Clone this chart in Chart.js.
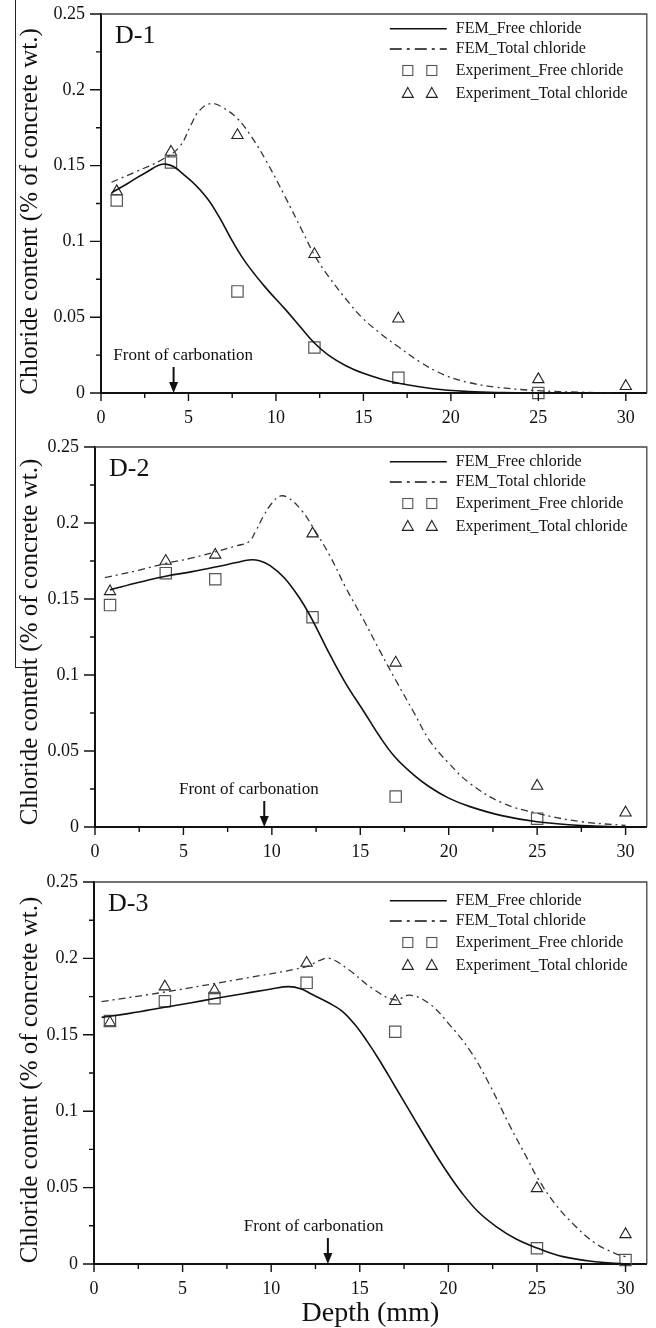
<!DOCTYPE html>
<html>
<head>
<meta charset="utf-8">
<script src="https://cdn.jsdelivr.net/npm/chart.js@4.4.0/dist/chart.umd.min.js"></script>
<style>
  body { margin: 0; background: #fff; }
  #wrap { position: relative; width: 656px; height: 1328px; overflow: hidden; }
  canvas { position: absolute; left: 0; }
  .edge { position: absolute; background: #222; }
</style>
</head>
<body>
<div id="wrap">
  <canvas id="d1" width="656" height="430" style="top:0"></canvas>
  <canvas id="d2" width="656" height="430" style="top:430px"></canvas>
  <canvas id="d3" width="656" height="468" style="top:860px"></canvas>
  <div class="edge" style="left:15px;top:0;width:1px;height:668px"></div>
  <div class="edge" style="left:15px;top:667px;width:18px;height:1px"></div>
</div>
<script>
var serif = "'Liberation Serif', 'Times New Roman', serif";

var xTickLabels = ["0", "5", "10", "15", "20", "25", "30"];
var yTickLabels = ["0", "0.05", "0.1", "0.15", "0.2", "0.25"];
var legendLabels = ["FEM_Free chloride", "FEM_Total chloride", "Experiment_Free chloride", "Experiment_Total chloride"];

// D-1
var d1ExpDepth = [0.9, 4, 7.8, 12.2, 17, 25, 30];
var d1ExpFree = [0.127, 0.152, 0.067, 0.030, 0.010, 0.000];
var d1ExpTotal = [0.133, 0.159, 0.170, 0.0915, 0.049, 0.009, 0.0045];
var d1FemFreeDepth = [0.6, 1.5, 2.5, 3.7, 4.87, 6.0, 6.76, 7.52, 8.28, 9.41, 10.55, 11.4, 12.2, 13, 14, 15, 16, 17, 19, 21, 23, 25, 27.5, 30];
var d1FemFree = [0.132, 0.138, 0.145, 0.151, 0.1427, 0.1295, 0.116, 0.100, 0.086, 0.0695, 0.055, 0.0435, 0.033, 0.025, 0.018, 0.013, 0.0093, 0.0065, 0.0028, 0.001, 0.0003, 0.0001, 0, 0];
var d1FemTotalDepth = [0.6, 2, 3.5, 4.5, 5.15, 5.6, 6.3, 7, 7.8, 8.6, 9.4, 10.5, 11.5, 12.25, 13, 14, 14.9, 16, 17, 18.3, 19.6, 21, 22.5, 25, 27.5, 30];
var d1FemTotal = [0.139, 0.146, 0.154, 0.1625, 0.177, 0.186, 0.191, 0.188, 0.181, 0.169, 0.154, 0.130, 0.107, 0.090, 0.077, 0.062, 0.050, 0.039, 0.0305, 0.020, 0.012, 0.007, 0.004, 0.0015, 0.0005, 0];
var d1Front = 4.15, d1FrontText = 4.7;

// D-2
var d2ExpDepth = [0.85, 4, 6.8, 12.3, 17, 25, 30];
var d2ExpFree = [0.146, 0.167, 0.163, 0.138, 0.020, 0.0055];
var d2ExpTotal = [0.155, 0.175, 0.179, 0.193, 0.108, 0.027, 0.0094];
var d2FemFreeDepth = [0.85, 2.5, 4, 5.5, 6.8, 8, 8.7, 9.3, 9.9, 10.7, 11.6, 12.3, 13.3, 14.2, 15.2, 16.1, 17, 18, 18.9, 20, 21.2, 23, 25, 27.5, 30];
var d2FemFree = [0.156, 0.161, 0.165, 0.168, 0.171, 0.174, 0.1757, 0.1752, 0.172, 0.164, 0.150, 0.136, 0.113, 0.094, 0.076, 0.0595, 0.0455, 0.0345, 0.0265, 0.019, 0.0134, 0.0075, 0.0035, 0.001, 0];
var d2FemTotalDepth = [0.56, 2.5, 4, 5.5, 6.8, 8, 8.7, 9.1, 9.5, 10, 10.5, 11, 11.7, 12.3, 13.3, 14.2, 15.2, 16.1, 17, 18, 18.9, 20, 21.2, 23, 25, 27.5, 30];
var d2FemTotal = [0.164, 0.169, 0.1734, 0.177, 0.181, 0.185, 0.1877, 0.195, 0.204, 0.213, 0.2178, 0.216, 0.208, 0.1976, 0.178, 0.157, 0.136, 0.116, 0.0967, 0.076, 0.0572, 0.042, 0.0287, 0.016, 0.009, 0.0035, 0.001];
var d2Front = 9.57, d2FrontText = 8.7;

// D-3
var d3ExpDepth = [0.9, 4, 6.8, 12, 17, 25, 30];
var d3ExpFree = [0.159, 0.172, 0.174, 0.184, 0.152, 0.0103, 0.0026];
var d3ExpTotal = [0.158, 0.1815, 0.179, 0.197, 0.172, 0.0495, 0.0194];
var d3FemFreeDepth = [0.43, 2, 4, 5.5, 6.8, 8.5, 10, 11, 11.7, 12.3, 13.3, 14, 14.7, 15.4, 16.1, 17, 18, 18.9, 19.85, 20.8, 21.7, 22.7, 23.8, 25, 26.4, 28.3, 30];
var d3FemFree = [0.1614, 0.164, 0.168, 0.171, 0.1737, 0.177, 0.180, 0.1815, 0.180, 0.1765, 0.1706, 0.1655, 0.157, 0.146, 0.1335, 0.116, 0.0965, 0.079, 0.0615, 0.046, 0.034, 0.0245, 0.0165, 0.0105, 0.005, 0.0015, 0];
var d3FemTotalDepth = [0.43, 4, 8, 12, 12.7, 13.3, 14.4, 15.7, 17, 17.8, 18.9, 20, 21.2, 22.3, 23.4, 24.5, 25, 26, 27.2, 28.3, 29.4, 30];
var d3FemTotal = [0.1717, 0.178, 0.186, 0.1946, 0.1985, 0.200, 0.1924, 0.1804, 0.1728, 0.176, 0.1706, 0.1575, 0.140, 0.118, 0.092, 0.068, 0.057, 0.0397, 0.0244, 0.0135, 0.007, 0.0048];
var d3Front = 13.2, d3FrontText = 12.4;

var panels = [
    { id: "d1", tag: "D-1", femFreeX: d1FemFreeDepth, femFree: d1FemFree, femTotalX: d1FemTotalDepth, femTotal: d1FemTotal,
      expX: d1ExpDepth, expFree: d1ExpFree, expTotal: d1ExpTotal, front: d1Front, frontText: d1FrontText,
      left: 101, top: 14, right: 6, axisH: 37, legendDy: 0, titleDy: 8, xTitle: false },
    { id: "d2", tag: "D-2", femFreeX: d2FemFreeDepth, femFree: d2FemFree, femTotalX: d2FemTotalDepth, femTotal: d2FemTotal,
      expX: d2ExpDepth, expFree: d2ExpFree, expTotal: d2ExpTotal, front: d2Front, frontText: d2FrontText,
      left: 95, top: 17, right: 9, axisH: 33, legendDy: 0, titleDy: 5, xTitle: false },
    { id: "d3", tag: "D-3", femFreeX: d3FemFreeDepth, femFree: d3FemFree, femTotalX: d3FemTotalDepth, femTotal: d3FemTotal,
      expX: d3ExpDepth, expFree: d3ExpFree, expTotal: d3ExpTotal, front: d3Front, frontText: d3FrontText,
      left: 94, top: 22, right: 7, axisH: 64, legendDy: 4, titleDy: 7, xTitle: true }
];

function pts(xs, ys) {
    return ys.map(function (y, i) { return { x: xs[i], y: y }; });
}

// frame, minor/major ticks, panel tag, carbonation arrow, legend, y title
var decor = {
    id: "decor",
    afterDraw: function (chart) {
        var p = chart.options.plugins.decor.panel;
        var ctx = chart.ctx, a = chart.chartArea, xs = chart.scales.x, ys = chart.scales.y;
        ctx.save();

        ctx.strokeStyle = "#444";
        ctx.lineWidth = 1.3;
        ctx.beginPath();
        ctx.moveTo(a.left, a.top);
        ctx.lineTo(a.right, a.top);
        ctx.lineTo(a.right, a.bottom);
        ctx.stroke();

        ctx.strokeStyle = "#111";
        ctx.lineWidth = 1.4;
        ctx.beginPath();
        xs.ticks.forEach(function (t) {
            var px = xs.getPixelForValue(t.value);
            ctx.moveTo(px, a.bottom);
            ctx.lineTo(px, a.bottom + (t.label !== "" ? 8 : 5));
        });
        ys.ticks.forEach(function (t) {
            var py = ys.getPixelForValue(t.value);
            ctx.moveTo(a.left, py);
            ctx.lineTo(a.left - (t.label !== "" ? 11 : 5), py);
        });
        ctx.stroke();

        ctx.fillStyle = "#111";
        ctx.font = "26px " + serif;
        ctx.textAlign = "left";
        ctx.textBaseline = "alphabetic";
        ctx.fillText(p.tag, a.left + 14, a.top + 29);

        // front of carbonation
        var fx = xs.getPixelForValue(p.front), fy = ys.getPixelForValue(0);
        ctx.font = "17px " + serif;
        ctx.textAlign = "center";
        ctx.fillText("Front of carbonation", xs.getPixelForValue(p.frontText), fy - 33);
        ctx.lineWidth = 2;
        ctx.beginPath();
        ctx.moveTo(fx, fy - 26);
        ctx.lineTo(fx, fy - 9);
        ctx.stroke();
        ctx.beginPath();
        ctx.moveTo(fx - 4.5, fy - 11);
        ctx.lineTo(fx + 4.5, fy - 11);
        ctx.lineTo(fx, fy);
        ctx.closePath();
        ctx.fill();

        // legend
        var lx = a.right - 191, ly = a.top + 14.7 + p.legendDy;
        var rows = [0, 20.3, 41.8, 64.7];
        ctx.font = "16px " + serif;
        ctx.textAlign = "left";
        ctx.textBaseline = "middle";
        legendLabels.forEach(function (t, i) { ctx.fillText(t, lx, ly + rows[i]); });
        ctx.lineWidth = 1.6;
        ctx.beginPath();
        ctx.moveTo(lx - 66, ly + rows[0]);
        ctx.lineTo(lx - 9, ly + rows[0]);
        ctx.stroke();
        ctx.setLineDash([12, 5, 3, 5]);
        ctx.beginPath();
        ctx.moveTo(lx - 66, ly + rows[1]);
        ctx.lineTo(lx - 9, ly + rows[1]);
        ctx.stroke();
        ctx.setLineDash([]);
        ctx.lineWidth = 1.1;
        [lx - 48, lx - 24].forEach(function (mx) {
            ctx.strokeStyle = "#555";
            ctx.strokeRect(mx - 5, ly + rows[2] - 5, 10, 10);
            ctx.strokeStyle = "#222";
            var ty = ly + rows[3];
            ctx.beginPath();
            ctx.moveTo(mx, ty - 6);
            ctx.lineTo(mx + 5.5, ty + 4);
            ctx.lineTo(mx - 5.5, ty + 4);
            ctx.closePath();
            ctx.stroke();
        });

        // y title
        ctx.translate(30, (a.top + a.bottom) / 2 + p.titleDy);
        ctx.rotate(-Math.PI / 2);
        ctx.font = "25px " + serif;
        ctx.textAlign = "center";
        ctx.fillText("Chloride content (% of concrete wt.)", 0, 0);
        ctx.restore();
    }
};

panels.forEach(function (p) {
    new Chart(document.getElementById(p.id), {
        type: "line",
        data: {
            datasets: [
                {
                    label: legendLabels[0],
                    data: pts(p.femFreeX, p.femFree),
                    borderColor: "#111",
                    borderWidth: 1.6,
                    pointRadius: 0,
                    tension: 0.4,
                    fill: false,
                    clip: false
                },
                {
                    label: legendLabels[1],
                    data: pts(p.femTotalX, p.femTotal),
                    borderColor: "#333",
                    borderWidth: 1.3,
                    borderDash: [7, 4, 2, 4],
                    pointRadius: 0,
                    tension: 0.4,
                    fill: false,
                    clip: false
                },
                {
                    label: legendLabels[2],
                    data: pts(p.expX, p.expFree),
                    showLine: false,
                    pointStyle: "rect",
                    pointRadius: 8,
                    pointBorderWidth: 1.2,
                    pointBorderColor: "#555",
                    pointBackgroundColor: "rgba(0,0,0,0)",
                    clip: false
                },
                {
                    label: legendLabels[3],
                    data: pts(p.expX, p.expTotal),
                    showLine: false,
                    pointStyle: "triangle",
                    pointRadius: 6.5,
                    pointBorderWidth: 1.1,
                    pointBorderColor: "#222",
                    pointBackgroundColor: "rgba(0,0,0,0)",
                    clip: false
                }
            ]
        },
        options: {
            responsive: false,
            animation: false,
            events: [],
            layout: { padding: { top: p.top, right: p.right, left: 0, bottom: 0 } },
            plugins: {
                legend: { display: false },
                tooltip: { enabled: false },
                decor: { panel: p }
            },
            scales: {
                x: {
                    type: "linear",
                    min: 0,
                    max: 31.2,
                    grid: { display: false, drawTicks: true, tickLength: 14 },
                    border: { display: true, color: "#111", width: 2 },
                    ticks: {
                        stepSize: 2.5,
                        includeBounds: false,
                        autoSkip: false,
                        maxRotation: 0,
                        padding: 0,
                        color: "#111",
                        font: { family: serif, size: 18 },
                        callback: function (v) {
                            var k = v / 5;
                            return Math.abs(k - Math.round(k)) < 1e-6 ? xTickLabels[Math.round(k)] : "";
                        }
                    },
                    afterFit: function (s) { s.height = p.axisH; },
                    title: {
                        display: p.xTitle,
                        text: "Depth (mm)",
                        color: "#111",
                        font: { family: serif, size: 28, lineHeight: 1.0 },
                        padding: 0
                    }
                },
                y: {
                    type: "linear",
                    min: 0,
                    max: 0.25,
                    grid: { display: false, drawTicks: true, tickLength: 16 },
                    border: { display: true, color: "#111", width: 2 },
                    ticks: {
                        stepSize: 0.025,
                        autoSkip: false,
                        padding: 0,
                        color: "#111",
                        font: { family: serif, size: 18 },
                        callback: function (v) {
                            var k = v / 0.05;
                            return Math.abs(k - Math.round(k)) < 1e-6 ? yTickLabels[Math.round(k)] : "";
                        }
                    },
                    afterFit: function (s) { s.width = p.left; }
                }
            }
        },
        plugins: [decor]
    });
});
</script>
</body>
</html>
